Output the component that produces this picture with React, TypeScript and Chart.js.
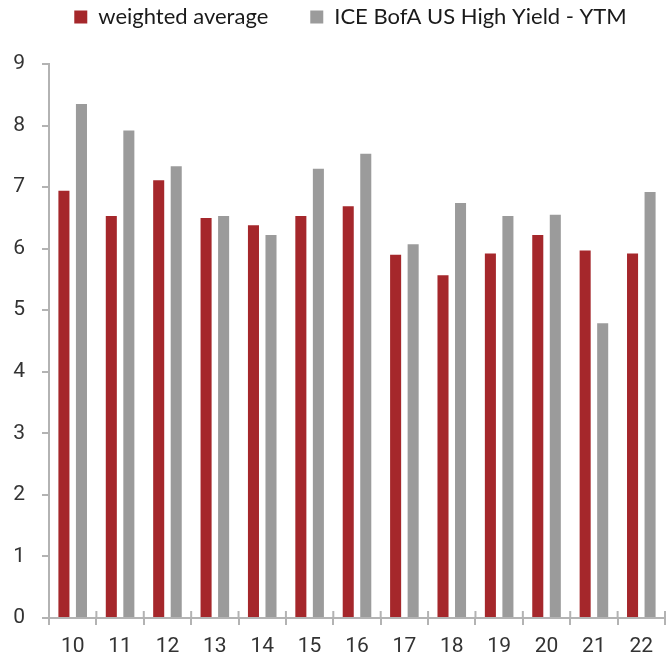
import React, { useEffect, useRef } from "react";
import { Chart, registerables } from "chart.js";

Chart.register(...registerables);

const categories = ["10", "11", "12", "13", "14", "15", "16", "17", "18", "19", "20", "21", "22"];
const weightedAverage = [6.94, 6.53, 7.11, 6.5, 6.38, 6.53, 6.69, 5.9, 5.57, 5.92, 6.22, 5.97, 5.92];
const iceBofaYtm = [8.35, 7.92, 7.34, 6.53, 6.22, 7.3, 7.54, 6.07, 6.74, 6.53, 6.55, 4.79, 6.92];
const seriesNames = ["weighted average", "ICE BofA US High Yield - YTM"];

const AXIS_COLOR = "#b3b3b3";
const TICK_FONT = "Roboto, 'DejaVu Sans', sans-serif";
const LEGEND_PADDING = 42;

const upperTicks = {
  id: "upperTicks",
  afterDatasetsDraw(chart: any) {
    const x = chart.scales.x;
    const ctx = chart.ctx;
    const bottom = chart.chartArea.bottom;
    ctx.save();
    ctx.strokeStyle = AXIS_COLOR;
    ctx.lineWidth = 2;
    for (let i = 0; i <= categories.length; i++) {
      const px = x.getPixelForValue(i - 0.5);
      ctx.beginPath();
      ctx.moveTo(px, bottom - 7);
      ctx.lineTo(px, bottom);
      ctx.stroke();
    }
    ctx.restore();
  },
};

const legendFix = {
  id: "legendFix",
  afterInit(chart: any) {
    const lg = chart.legend;
    if (!lg || lg.__fixed) return;
    lg.__fixed = true;
    const origFit = lg.fit.bind(lg);
    lg.fit = () => {
      origFit();
      lg.height = 64;
    };
    const origDraw = lg.draw.bind(lg);
    lg.draw = (...args: any[]) => {
      const ctx = chart.ctx;
      ctx.save();
      ctx.translate(18, -36);
      origDraw(...args);
      ctx.restore();
    };
  },
};

export default function App() {
  const ref = useRef<HTMLCanvasElement>(null);
  useEffect(() => {
    if (!ref.current) return;
    const chart = new Chart(ref.current, {
      type: "bar",
      data: {
        labels: categories,
        datasets: [
          {
            label: seriesNames[0],
            data: weightedAverage,
            backgroundColor: "#a5272b",
            categoryPercentage: 0.74,
            barPercentage: 0.63,
          },
          {
            label: seriesNames[1],
            data: iceBofaYtm,
            backgroundColor: "#9b9b9b",
            categoryPercentage: 0.74,
            barPercentage: 0.63,
          },
        ],
      },
      options: {
        animation: false,
        responsive: false,
        maintainAspectRatio: false,
        layout: { padding: { left: 0, right: 6, top: 0, bottom: 0 } },
        plugins: {
          tooltip: { enabled: false },
          legend: {
            position: "top",
            labels: {
              boxWidth: 13,
              boxHeight: 13,
              padding: LEGEND_PADDING,
              color: "#1a1a1a",
              font: { family: "Lato, 'Open Sans', sans-serif", size: 22 },
            },
          },
        },
        scales: {
          x: {
            offset: true,
            grid: {
              offset: true,
              drawOnChartArea: false,
              drawTicks: true,
              tickLength: 7,
              color: AXIS_COLOR,
              lineWidth: 2,
            },
            border: { color: AXIS_COLOR, width: 2 },
            ticks: {
              color: "#333333",
              padding: 9,
              font: { family: TICK_FONT, size: 21 },
            },
            afterFit: (scale: any) => {
              scale.height = 41;
            },
          },
          y: {
            min: 0,
            max: 9,
            ticks: {
              stepSize: 1,
              color: "#333333",
              padding: 17,
              font: { family: TICK_FONT, size: 21 },
            },
            grid: {
              drawOnChartArea: false,
              drawTicks: true,
              tickLength: 7,
              color: AXIS_COLOR,
              lineWidth: 2,
            },
            border: { color: AXIS_COLOR, width: 2 },
            afterFit: (scale: any) => {
              scale.width = 49;
            },
          },
        },
      },
      plugins: [legendFix, upperTicks],
    });
    return () => chart.destroy();
  }, []);
  return (
    <div style={{ position: "fixed", left: 0, top: 0, width: 671, height: 659, background: "#fff" }}>
      <canvas ref={ref} width={671} height={659} style={{ display: "block" }} />
    </div>
  );
}
